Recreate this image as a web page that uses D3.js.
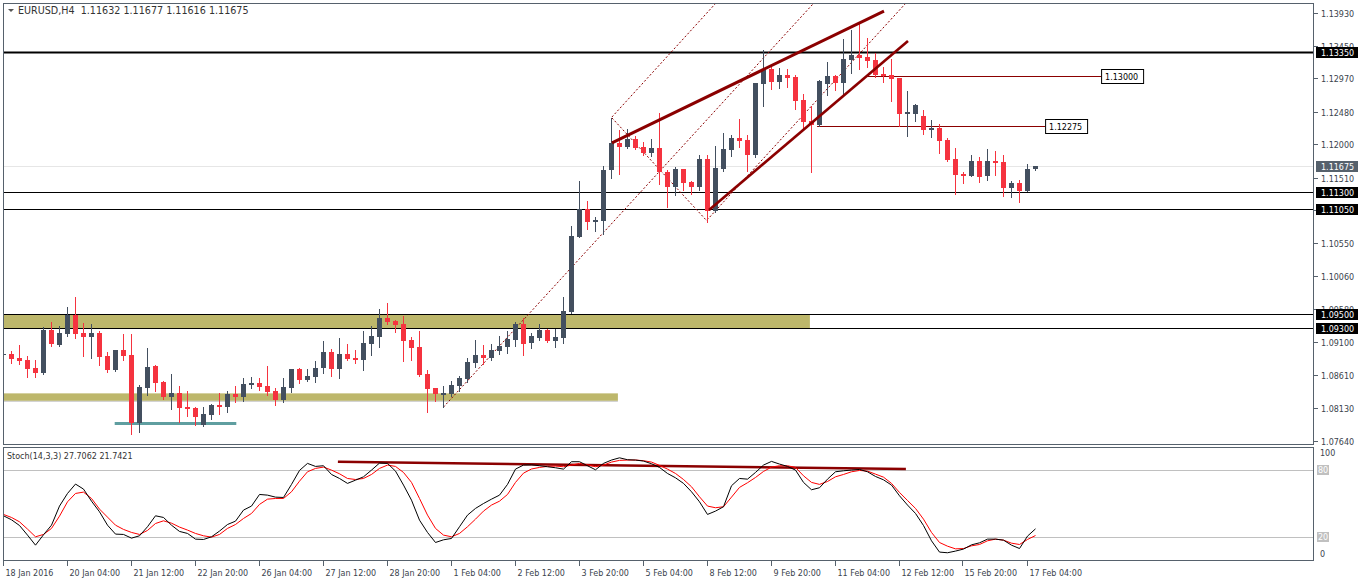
<!DOCTYPE html>
<html>
<head>
<meta charset="utf-8">
<script src="https://cdn.jsdelivr.net/npm/d3@7"></script>
<style>
  body { margin: 0; background: #fff; }
  text { font-family: "DejaVu Sans", sans-serif; font-size: 8px; white-space: pre; }
</style>
</head>
<body>
<svg id="chart" width="1358" height="581"></svg>
<script>
// EURUSD H4 candles, bar 0 = 18 Jan 2016 20:00
const opens = [1.08918,1.08918,1.08859,1.08830,1.08712,1.08639,1.09271,1.09050,1.09212,1.09492,
  1.09227,1.09168,1.09227,1.08889,1.08683,1.08977,1.08903,1.07904,1.08418,1.08742,
  1.08507,1.08286,1.08345,1.08139,1.08124,1.07874,1.08021,1.08168,1.08139,1.08330,
  1.08286,1.08463,1.08492,1.08448,1.08374,1.08242,1.08418,1.08698,1.08536,1.08580,
  1.08712,1.08947,1.08698,1.08918,1.08859,1.08830,1.09065,1.09168,1.09448,1.09403,
  1.09359,1.09124,1.09021,1.08624,1.08418,1.08315,1.08330,1.08448,1.08551,1.08786,
  1.08903,1.08859,1.08962,1.09021,1.09124,1.09359,1.09080,1.09153,1.09271,1.09109,
  1.09153,1.09536,1.10638,1.11050,1.10859,1.10873,1.11623,1.12020,1.11961,1.12079,
  1.11961,1.11873,1.11947,1.11594,1.11373,1.11638,1.11447,1.11373,1.11785,1.11021,
  1.11638,1.11917,1.12094,1.12064,1.11844,1.12886,1.13107,1.12916,1.13019,1.12989,
  1.12651,1.12343,1.12284,1.12886,1.13004,1.12901,1.13239,1.13313,1.13283,1.13239,
  1.13033,1.13019,1.12975,1.12446,1.12446,1.12416,1.12211,1.12240,1.12064,1.11785,
  1.11564,1.11535,1.11755,1.11535,1.11755,1.11741,1.11359,1.11432,1.11315,1.11632];
const highs = [1.08992,1.08962,1.09050,1.08889,1.08830,1.09315,1.09389,1.09330,1.09609,1.09756,
  1.09374,1.09359,1.09256,1.08947,1.08977,1.09212,1.09212,1.08463,1.09006,1.08756,
  1.08521,1.08624,1.08448,1.08374,1.08139,1.08139,1.08183,1.08345,1.08374,1.08448,
  1.08565,1.08580,1.08565,1.08742,1.08418,1.08565,1.08698,1.08712,1.08698,1.08815,
  1.09109,1.08992,1.09153,1.09065,1.08977,1.09256,1.09330,1.09580,1.09668,1.09418,
  1.09477,1.09168,1.09256,1.08683,1.08418,1.08448,1.08521,1.08595,1.08859,1.09124,
  1.09050,1.09065,1.09183,1.09256,1.09389,1.09448,1.09227,1.09359,1.09286,1.09286,
  1.09756,1.10800,1.11461,1.11168,1.10932,1.11682,1.12388,1.12211,1.12226,1.12123,
  1.12035,1.12079,1.12461,1.11623,1.11667,1.11638,1.11461,1.11844,1.11844,1.11976,
  1.12167,1.12138,1.12373,1.12138,1.12901,1.13386,1.13136,1.13121,1.13107,1.13019,
  1.12739,1.12563,1.12945,1.13210,1.13019,1.13548,1.13680,1.13768,1.13562,1.13342,
  1.13136,1.13254,1.12975,1.12784,1.12593,1.12505,1.12358,1.12299,1.12094,1.11947,
  1.11594,1.11844,1.11814,1.11932,1.11902,1.11844,1.11461,1.11476,1.11711,1.11677];
const lows = [1.08859,1.08786,1.08771,1.08580,1.08580,1.08624,1.09036,1.09036,1.09183,1.09153,
  1.08889,1.08859,1.08756,1.08654,1.08668,1.08830,1.07742,1.07771,1.08315,1.08374,
  1.08257,1.08110,1.07918,1.08006,1.07874,1.07859,1.07962,1.08036,1.08065,1.08213,
  1.08227,1.08418,1.08389,1.08315,1.08168,1.08213,1.08359,1.08492,1.08521,1.08507,
  1.08639,1.08595,1.08565,1.08830,1.08786,1.08683,1.08903,1.09021,1.09359,1.09242,
  1.08815,1.08830,1.08595,1.08065,1.08227,1.08139,1.08301,1.08374,1.08507,1.08727,
  1.08771,1.08830,1.08918,1.08933,1.09036,1.08903,1.09006,1.09124,1.09095,1.09021,
  1.09080,1.09521,1.10638,1.10756,1.10727,1.10682,1.11506,1.11564,1.11947,1.11932,
  1.11844,1.11829,1.11417,1.11079,1.11256,1.11329,1.11271,1.11329,1.10859,1.11006,
  1.11608,1.11829,1.11961,1.11608,1.11814,1.12563,1.12813,1.12828,1.12842,1.12519,
  1.12226,1.11594,1.12270,1.12724,1.12798,1.12724,1.13048,1.13107,1.13136,1.12989,
  1.12916,1.12636,1.12270,1.12123,1.12343,1.12153,1.12109,1.11873,1.11755,1.11270,
  1.11432,1.11535,1.11447,1.11476,1.11550,1.11241,1.11227,1.11153,1.11315,1.11616];
const closes = [1.08925,1.08845,1.08815,1.08698,1.08639,1.09271,1.09065,1.09227,1.09492,1.09212,
  1.09168,1.09227,1.08874,1.08683,1.08977,1.08889,1.07904,1.08433,1.08727,1.08492,
  1.08286,1.08345,1.08124,1.08110,1.07992,1.08036,1.08168,1.08139,1.08330,1.08286,
  1.08477,1.08492,1.08433,1.08359,1.08242,1.08433,1.08698,1.08536,1.08595,1.08712,
  1.08947,1.08698,1.08918,1.08845,1.08830,1.09080,1.09183,1.09448,1.09389,1.09345,
  1.09109,1.09006,1.08609,1.08404,1.08330,1.08345,1.08463,1.08565,1.08800,1.08903,
  1.08859,1.08977,1.09036,1.09139,1.09359,1.09065,1.09183,1.09271,1.09109,1.09168,
  1.09550,1.10653,1.11050,1.10859,1.10888,1.11623,1.12020,1.11961,1.12079,1.11947,
  1.11873,1.11947,1.11594,1.11373,1.11638,1.11432,1.11373,1.11785,1.11021,1.11653,
  1.11932,1.12094,1.12050,1.11844,1.12901,1.13107,1.12916,1.13019,1.12975,1.12636,
  1.12328,1.12284,1.12931,1.13004,1.12901,1.13254,1.13313,1.13269,1.13224,1.13019,
  1.13004,1.12960,1.12446,1.12475,1.12578,1.12211,1.12240,1.12050,1.11770,1.11550,
  1.11535,1.11755,1.11520,1.11755,1.11726,1.11359,1.11432,1.11315,1.11638,1.11675];

// Stochastic(14,3,3) main (%K) and signal (%D)
const stochK = [39.4,35.8,30.7,22.1,13.1,22.4,31.0,48.1,59.4,67.8,63.3,52.5,43.0,31.0,23.0,22.7,19.4,21.5,29.6,39.4,
  37.9,31.0,25.4,23.6,18.5,18.2,20.6,25.7,31.6,34.6,44.5,48.1,58.5,57.9,56.1,55.8,67.5,80.0,86.3,83.6,
  84.2,76.4,72.8,68.4,71.3,74.3,80.3,86.6,86.3,79.4,66.9,53.4,35.5,24.5,15.5,17.9,19.1,29.6,40.0,46.0,
  50.4,54.3,57.9,67.5,81.2,84.8,85.0,84.2,83.3,82.4,81.2,87.8,87.8,84.2,80.6,86.3,89.3,91.3,89.6,89.3,
  88.4,86.0,82.7,77.3,73.4,68.4,60.9,51.9,40.6,43.6,47.5,66.3,72.8,72.2,78.2,84.8,88.1,85.7,83.6,80.3,
  69.3,62.7,64.5,72.2,78.8,79.7,80.3,80.9,78.8,74.6,71.6,66.9,57.3,49.0,41.5,30.7,17.0,6.9,6.3,7.8,
  9.6,13.4,15.2,18.5,18.5,17.6,13.1,10.1,21.2,27.7062];
const stochD = [40.6,37.9,34.0,27.5,20.6,22.7,28.1,39.1,51.9,59.4,60.6,54.9,45.4,38.2,31.0,27.2,24.5,22.7,26.3,32.5,
  34.9,32.8,29.3,26.6,23.6,21.5,20.3,22.7,28.1,31.6,37.0,41.5,49.6,54.3,54.9,54.9,60.9,70.4,78.8,81.8,
  83.0,80.3,77.0,72.8,71.9,72.8,76.4,81.8,84.8,83.6,78.2,69.3,54.9,40.0,28.1,22.1,20.6,23.6,29.6,36.4,
  43.6,49.0,52.5,58.5,69.3,77.6,81.3,82.7,83.6,83.9,83.3,84.8,86.3,85.1,83.3,84.8,87.5,89.0,89.3,89.3,
  88.7,87.5,84.5,81.2,77.3,71.9,65.4,56.4,48.1,46.6,47.5,56.1,64.8,69.0,73.7,79.1,83.0,84.2,84.2,82.7,
  75.2,69.3,67.5,70.1,74.3,76.4,78.8,80.0,79.4,76.7,74.0,68.4,60.3,53.1,46.0,36.4,24.5,15.5,12.2,9.8,
  10.1,12.5,13.7,17.0,18.5,17.6,14.9,13.7,18.2,21.7421];

const priceTicks = [1.13930,1.13450,1.12970,1.12480,1.12000,1.11510,1.11030,1.10550,1.10060,
  1.09580,1.09100,1.08610,1.08130,1.07640];
const timeLabels = ["18 Jan 2016","20 Jan 04:00","21 Jan 12:00","22 Jan 20:00","26 Jan 04:00",
  "27 Jan 12:00","28 Jan 20:00","1 Feb 04:00","2 Feb 12:00","3 Feb 20:00","5 Feb 04:00",
  "8 Feb 12:00","9 Feb 20:00","11 Feb 04:00","12 Feb 12:00","15 Feb 20:00","17 Feb 04:00"];
const labelEvery = 8;  // one time label per 8 bars

const blackLevels = [1.13350, 1.11300, 1.11050, 1.09500, 1.09300];
const currentPrice = 1.11675;
// zones: [low price, high price, last bar]
const zones = [[1.09300, 1.09500, 100.8], [1.08230, 1.08340, 76.8]];
const supportLine = [13.9, 29.1, 1.07899];
// red target levels: [price, first bar, last bar]
const targets = [[1.13000, 108, 137.2], [1.12275, 101.7, 130.2]];
// trend lines [bar, price, bar, price]
const thickLines = [[76.06, 1.12020, 110.06, 1.13959], [88.19, 1.11035, 113.06, 1.13518]];
const dottedLines = [[55, 1.08139, 101.3, 1.14077], [76.06, 1.12402, 89.06, 1.14077],
  [87.94, 1.10888, 112.81, 1.14077], [76.06, 1.12388, 87.94, 1.10873]];
const stochLine = [41.8, 87.8, 112.8, 81.2];
const stochLevels = [80, 20];

const frameColor = "#56616c";
const textColor = "#3a434c";
const bullColor = "#434f5f";
const bearColor = "#f5333f";
const trendColor = "#8b0000";

const svg = d3.select("#chart");
const left = 3, right = 1314;

const x = d3.scaleLinear().domain([0, 129]).range([3.5, 1035.5]);
const y = d3.scaleLinear().domain([1.07640, 1.13930]).range([441, 13]);
const ys = d3.scaleLinear().domain([0, 100]).range([559.8, 448.1]);

const defs = svg.append("defs");
defs.append("clipPath").attr("id", "clipMain")
  .append("rect").attr("x", left).attr("y", 3).attr("width", right - left).attr("height", 441);
defs.append("clipPath").attr("id", "clipStoch")
  .append("rect").attr("x", left).attr("y", 447).attr("width", right - left).attr("height", 114);

const main = svg.append("g").attr("clip-path", "url(#clipMain)");

// zones
main.selectAll(".zone").data(zones).enter().append("rect")
  .attr("x", left)
  .attr("y", d => y(d[1]))
  .attr("width", d => x(d[2]) - left)
  .attr("height", d => y(d[0]) - y(d[1]))
  .attr("fill", "#bdb76b");
main.append("line")
  .attr("x1", left).attr("x2", x(zones[1][2]))
  .attr("y1", y(zones[1][0]) + 0.5).attr("y2", y(zones[1][0]) + 0.5)
  .attr("stroke", "#cccccc");

// current price line
main.append("line")
  .attr("x1", left).attr("x2", right)
  .attr("y1", Math.round(y(currentPrice)) + 0.5).attr("y2", Math.round(y(currentPrice)) + 0.5)
  .attr("stroke", "#e6e6e6");

// black horizontal levels
blackLevels.forEach((p, i) => {
  main.append("line")
    .attr("x1", left).attr("x2", right)
    .attr("y1", Math.round(y(p)) + 0.5).attr("y2", Math.round(y(p)) + 0.5)
    .attr("stroke", "#000")
    .attr("stroke-width", i === 0 ? 2 : 1);
});

// teal support
main.append("line")
  .attr("x1", x(supportLine[0])).attr("x2", x(supportLine[1]))
  .attr("y1", y(supportLine[2])).attr("y2", y(supportLine[2]))
  .attr("stroke", "#5f9ea0").attr("stroke-width", 3);

// red target levels
targets.forEach(t => {
  main.append("line")
    .attr("x1", x(t[1])).attr("x2", x(t[2]))
    .attr("y1", Math.round(y(t[0])) + 0.5).attr("y2", Math.round(y(t[0])) + 0.5)
    .attr("stroke", trendColor).attr("stroke-width", 1);
});

// dotted trend lines
main.selectAll(".dot").data(dottedLines).enter().append("line")
  .attr("x1", d => x(d[0])).attr("y1", d => y(d[1]))
  .attr("x2", d => x(d[2])).attr("y2", d => y(d[3]))
  .attr("stroke", trendColor).attr("stroke-width", 1)
  .attr("stroke-dasharray", "2,2");

// candles
const bars = d3.range(opens.length);
const candles = main.append("g").attr("shape-rendering", "crispEdges");
candles.selectAll(".wick").data(bars).enter().append("line")
  .attr("x1", i => x(i)).attr("x2", i => x(i))
  .attr("y1", i => Math.round(y(highs[i]))).attr("y2", i => Math.round(y(lows[i])) + 1)
  .attr("stroke", i => closes[i] >= opens[i] ? bullColor : bearColor);
candles.selectAll(".body").data(bars).enter().append("rect")
  .attr("x", i => x(i) - 2.5)
  .attr("width", 5)
  .attr("y", i => Math.round(y(Math.max(opens[i], closes[i]))))
  .attr("height", i => Math.max(1, Math.round(y(Math.min(opens[i], closes[i]))) - Math.round(y(Math.max(opens[i], closes[i])))))
  .attr("fill", i => closes[i] >= opens[i] ? bullColor : bearColor);

// thick trend lines
main.selectAll(".trend").data(thickLines).enter().append("line")
  .attr("x1", d => x(d[0])).attr("y1", d => y(d[1]))
  .attr("x2", d => x(d[2])).attr("y2", d => y(d[3]))
  .attr("stroke", trendColor)
  .attr("stroke-width", (d, i) => i === 0 ? 3 : 2.6);

// target labels
targets.forEach(t => {
  const bx = x(t[2]), by = Math.round(y(t[0]));
  svg.append("rect").attr("x", bx + 0.5).attr("y", by - 6.5).attr("width", 42).attr("height", 14)
    .attr("fill", "#fff").attr("stroke", "#000");
  svg.append("text").attr("x", bx + 4).attr("y", by + 3.5).attr("fill", "#000")
    .text(t[0].toFixed(5));
});

// header
const last = opens.length - 1;
svg.append("path").attr("d", "M8,9 L14,9 L11,12 Z").attr("fill", "#555");
svg.append("text").attr("x", 18).attr("y", 14).attr("fill", "#333").style("font-size", "9.6px")
  .text("EURUSD,H4  " + [opens[last], highs[last], lows[last], closes[last]].map(v => v.toFixed(5)).join(" "));

// price axis
const axisG = svg.append("g");
priceTicks.forEach(p => {
  const py = Math.round(y(p)) + 0.5;
  axisG.append("line").attr("x1", right).attr("x2", right + 4).attr("y1", py).attr("y2", py)
    .attr("stroke", frameColor);
  axisG.append("text").attr("x", right + 7).attr("y", py + 3).attr("fill", textColor)
    .text(p.toFixed(5));
});
blackLevels.forEach(p => {
  const py = Math.round(y(p));
  axisG.append("rect").attr("x", right + 2).attr("y", py - 5).attr("width", 44).attr("height", 11)
    .attr("fill", "#000");
  axisG.append("text").attr("x", right + 7).attr("y", py + 3.5).attr("fill", "#fff").text(p.toFixed(5));
});
{
  const py = Math.round(y(currentPrice));
  axisG.append("rect").attr("x", right + 2).attr("y", py - 5).attr("width", 44).attr("height", 11)
    .attr("fill", "#56616c");
  axisG.append("text").attr("x", right + 7).attr("y", py + 3.5).attr("fill", "#fff").text(currentPrice.toFixed(5));
}

// stochastic panel
const st = svg.append("g").attr("clip-path", "url(#clipStoch)");
stochLevels.forEach(v => {
  st.append("line").attr("x1", left).attr("x2", right)
    .attr("y1", Math.round(ys(v)) + 0.5).attr("y2", Math.round(ys(v)) + 0.5)
    .attr("stroke", "#c0c0c0");
});
st.append("line")
  .attr("x1", x(stochLine[0])).attr("y1", ys(stochLine[1]))
  .attr("x2", x(stochLine[2])).attr("y2", ys(stochLine[3]))
  .attr("stroke", trendColor).attr("stroke-width", 2.5);
const stLine = arr => d3.line().x((d, i) => x(i)).y(d => ys(d))(arr);
st.append("path").attr("d", stLine(stochD)).attr("fill", "none").attr("stroke", "#ff0000").attr("stroke-width", 1);
st.append("path").attr("d", stLine(stochK)).attr("fill", "none").attr("stroke", "#000").attr("stroke-width", 1);

svg.append("text").attr("x", 7).attr("y", 459).attr("fill", "#333")
  .text("Stoch(14,3,3) " + stochK[last].toFixed(4) + " " + stochD[last].toFixed(4));

[100, 0].forEach(v => {
  svg.append("text").attr("x", right + 6).attr("y", ys(v) + (v === 100 ? 8 : -3)).attr("fill", textColor).text(v);
});
stochLevels.forEach(v => {
  const py = Math.round(ys(v));
  svg.append("rect").attr("x", right + 3).attr("y", py - 5).attr("width", 12).attr("height", 10).attr("fill", "#c0c0c0");
  svg.append("text").attr("x", right + 4).attr("y", py + 3).attr("fill", "#fff").text(v);
});

// frames
svg.append("rect").attr("x", left + 0.5).attr("y", 3.5).attr("width", right - left - 1).attr("height", 441)
  .attr("fill", "none").attr("stroke", frameColor);
svg.append("rect").attr("x", left + 0.5).attr("y", 447.5).attr("width", right - left - 1).attr("height", 113)
  .attr("fill", "none").attr("stroke", frameColor);

// time axis
timeLabels.forEach((lab, k) => {
  const tx = Math.round(x(k * labelEvery)) - 0.5;
  svg.append("line").attr("x1", tx).attr("x2", tx).attr("y1", 561).attr("y2", 566).attr("stroke", frameColor);
  svg.append("text").attr("x", tx + 2).attr("y", 576).attr("fill", textColor).text(lab);
});
</script>
</body>
</html>
